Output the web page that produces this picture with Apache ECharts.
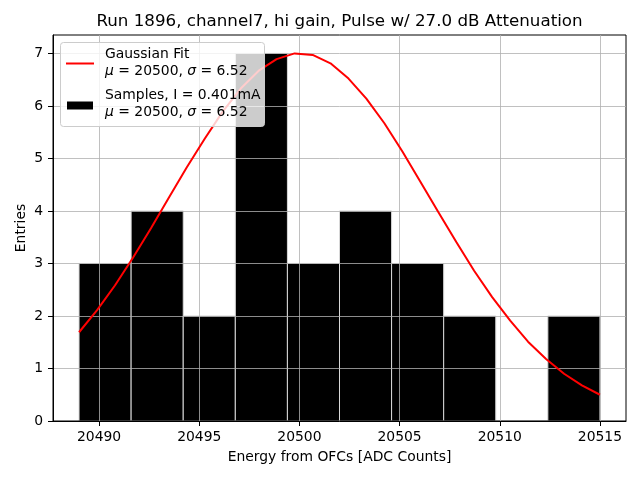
<!DOCTYPE html>
<html><head><meta charset="utf-8">
<script src="https://cdn.jsdelivr.net/npm/echarts@6/dist/echarts.min.js"></script>
<style>html,body{margin:0;padding:0;background:#fff}#c{width:640px;height:480px}</style>
</head><body><div id="c"></div>
<script>
// Histogram bins (edges) and counts
const binEdges = [20489.0, 20491.6, 20494.2, 20496.8, 20499.4, 20502.0, 20504.6, 20507.2, 20509.8, 20512.4, 20515.0];
const counts = [3, 4, 2, 7, 3, 4, 3, 2, 0, 2];
// Gaussian fit curve
const fitX = [20489.00, 20489.90, 20490.79, 20491.69, 20492.59, 20493.48, 20494.38, 20495.28, 20496.17, 20497.07,
              20497.97, 20498.86, 20499.76, 20500.66, 20501.55, 20502.45, 20503.34, 20504.24, 20505.14, 20506.03,
              20506.93, 20507.83, 20508.72, 20509.62, 20510.52, 20511.41, 20512.31, 20513.21, 20514.10, 20515.00];
const fitY = [1.69, 2.11, 2.58, 3.11, 3.67, 4.25, 4.83, 5.38, 5.89, 6.33,
              6.67, 6.89, 7.00, 6.97, 6.81, 6.52, 6.14, 5.67, 5.13, 4.56,
              3.98, 3.41, 2.86, 2.36, 1.91, 1.51, 1.18, 0.90, 0.68, 0.50];
const xTicks = [20490, 20495, 20500, 20505, 20510, 20515];
const yTicks = [0, 1, 2, 3, 4, 5, 6, 7];
const titleText = 'Run 1896, channel7, hi gain, Pulse w/ 27.0 dB Attenuation';
const xName = 'Energy from OFCs [ADC Counts]';
const yName = 'Entries';
const fitLabel = 'Gaussian Fit';
const sampleLabel = 'Samples, I = 0.401mA';
const statsLabel = '{i|μ} = 20500, {i|σ} = 6.52';

const histData = counts.map((c, i) => [binEdges[i], binEdges[i + 1], c]);
const fitData = fitX.map((x, i) => [x, fitY[i]]);
const FONT = 'DejaVu Sans';

const chart = echarts.init(document.getElementById('c'), null, {renderer: 'canvas'});
chart.setOption({
  animation: false,
  backgroundColor: '#fff',
  grid: {left: 53, right: 14, top: 35, bottom: 59, show: true, borderColor: '#000', borderWidth: 1, backgroundColor: 'transparent'},
  xAxis: {
    type: 'value', min: 20487.7, max: 20516.3,
    name: xName, nameLocation: 'middle', nameGap: 29,
    nameTextStyle: {fontFamily: FONT, fontSize: 13.9, color: '#000'},
    axisLine: {show: true, onZero: false, lineStyle: {color: '#000', width: 1}},
    axisTick: {show: true, inside: false, length: 5, lineStyle: {color: '#000'}, customValues: xTicks},
    axisLabel: {fontFamily: FONT, fontSize: 13.9, color: '#000', margin: 9, customValues: xTicks, formatter: v => String(v)},
    splitLine: {show: true, lineStyle: {color: '#b0b0b0', width: 0.8}}
  },
  yAxis: {
    type: 'value', min: 0, max: 7.35,
    axisLine: {show: true, lineStyle: {color: '#000', width: 1}},
    axisTick: {show: true, inside: false, length: 5, lineStyle: {color: '#000'}, customValues: yTicks},
    axisLabel: {fontFamily: FONT, fontSize: 13.9, color: '#000', margin: 10, customValues: yTicks},
    splitLine: {show: true, lineStyle: {color: '#b0b0b0', width: 0.8}}
  },
  series: [
    {
      type: 'custom', name: sampleLabel, z: -1,
      data: histData,
      encode: {x: [0, 1], y: 2},
      renderItem: function (params, api) {
        const p0 = api.coord([api.value(0), 0]);
        const p1 = api.coord([api.value(1), api.value(2)]);
        return {
          type: 'rect',
          shape: {x: p0[0], y: p1[1], width: p1[0] - p0[0], height: p0[1] - p1[1]},
          style: {fill: '#000', stroke: '#d8d8d8', lineWidth: 1}
        };
      }
    },
    {
      type: 'line', name: fitLabel, data: fitData, showSymbol: false, symbol: 'none',
      lineStyle: {color: '#ff0000', width: 2}, z: 3
    }
  ],
  graphic: [
    {type: 'text', x: 339.5, y: 13, style: {text: titleText, fontFamily: FONT, fontSize: 16.7, fill: '#000', align: 'center'}},
    {type: 'text', x: 21, y: 228, rotation: Math.PI / 2, style: {text: yName, fontFamily: FONT, fontSize: 13.9, fill: '#000', align: 'center', verticalAlign: 'middle'}},
    {type: 'rect', shape: {x: 60.5, y: 42.5, width: 204, height: 84, r: 3}, style: {fill: 'rgba(255,255,255,0.8)', stroke: '#cccccc', lineWidth: 1}, z: 10},
    {type: 'line', shape: {x1: 66, y1: 63.5, x2: 94, y2: 63.5}, style: {stroke: '#ff0000', lineWidth: 2}, z: 11},
    {type: 'rect', shape: {x: 67, y: 101.5, width: 26, height: 8}, style: {fill: '#000'}, z: 11},
    {type: 'text', x: 105, y: 46, z: 11, style: {text: fitLabel + '\n' + statsLabel, fontFamily: FONT, fontSize: 13.9, fill: '#000', lineHeight: 17,
      rich: {i: {fontStyle: 'italic', fontFamily: FONT, fontSize: 13.9}}}},
    {type: 'text', x: 105, y: 87, z: 11, style: {text: sampleLabel + '\n' + statsLabel, fontFamily: FONT, fontSize: 13.9, fill: '#000', lineHeight: 17,
      rich: {i: {fontStyle: 'italic', fontFamily: FONT, fontSize: 13.9}}}}
  ]
});
</script></body></html>
